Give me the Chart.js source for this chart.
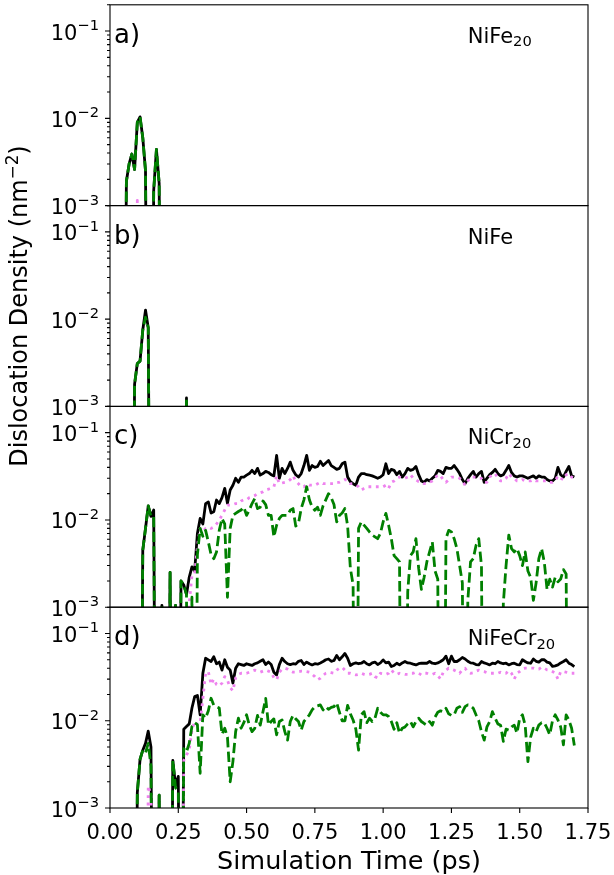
<!DOCTYPE html>
<html>
<head>
<meta charset="utf-8">
<script src="https://cdn.jsdelivr.net/npm/chart.js@4.4.1/dist/chart.umd.min.js"></script>
<style>
  body { margin: 0; background: #fff; }
  #fig { position: relative; width: 614px; height: 875px; }
  #fig canvas { position: absolute; left: 0; top: 0; }
</style>
</head>
<body>
<div id="fig">
  <canvas id="panelA" width="614" height="875"></canvas>
  <canvas id="panelB" width="614" height="875"></canvas>
  <canvas id="panelC" width="614" height="875"></canvas>
  <canvas id="panelD" width="614" height="875"></canvas>
</div>
<script>
// all densities in units of 1e-3 nm^-2, 0 = below the axis (no dislocations)

// time samples (ps) for panels a and b
const timeEarly = [0.05,0.06,0.07,0.08,0.09,0.10,0.11,0.12,0.13,0.14,
  0.15,0.16,0.17,0.18,0.19,0.20,0.21,0.22,0.23,0.24,
  0.25,0.26,0.27,0.28,0.29,0.30];

// time samples (ps) for panels c and d
const timeFull = [0.09,0.10,0.11,0.12,0.13,0.14,0.15,0.16,0.17,0.18,
  0.19,0.20,0.21,0.22,0.23,0.24,0.25,0.26,0.27,0.28,
  0.29,0.30,0.31,0.32,0.33,0.34,0.35,0.36,0.37,0.38,
  0.39,0.40,0.41,0.42,0.43,0.44,0.45,0.46,0.47,0.48,
  0.49,0.50,0.51,0.52,0.53,0.54,0.55,0.56,0.57,0.58,
  0.59,0.60,0.61,0.62,0.63,0.64,0.65,0.66,0.67,0.68,
  0.69,0.70,0.71,0.72,0.73,0.74,0.75,0.76,0.77,0.78,
  0.79,0.80,0.81,0.82,0.83,0.84,0.85,0.86,0.87,0.88,
  0.89,0.90,0.91,0.92,0.93,0.94,0.95,0.96,0.97,0.98,
  0.99,1.00,1.01,1.02,1.03,1.04,1.05,1.06,1.07,1.08,
  1.09,1.10,1.11,1.12,1.13,1.14,1.15,1.16,1.17,1.18,
  1.19,1.20,1.21,1.22,1.23,1.24,1.25,1.26,1.27,1.28,
  1.29,1.30,1.31,1.32,1.33,1.34,1.35,1.36,1.37,1.38,
  1.39,1.40,1.41,1.42,1.43,1.44,1.45,1.46,1.47,1.48,
  1.49,1.50,1.51,1.52,1.53,1.54,1.55,1.56,1.57,1.58,
  1.59,1.60,1.61,1.62,1.63,1.64,1.65,1.66,1.67,1.68,
  1.69,1.70];

// a) NiFe20
const niFe20Total = [0,1.9,3.0,3.9,2.6,9.0,10.4,6.0,2.5,0,
  0,1.5,4.4,1.8,0,0,0,0,0,0,
  0,0,0,0,0,0];
const niFe20Violet = [0,0,0,0,0,1.15,0,0,0,0,
  0,0,0,0,0,0,0,0,0,0,
  0,0,0,0,0,0];
const niFe20Green = [0,1.9,3.0,3.9,2.6,9.0,10.4,6.0,2.5,0,
  0,1.5,4.4,1.8,0,0,0,0,0,0,
  0,0,0,0,0,0];

// b) NiFe
const niFeTotal = [0,0,0,0,1.8,3.1,3.3,7.5,12.7,8.0,
  0,0,0,0,0,0,0,0,0,0,
  0,0,0,1.25,0,0];
const niFeViolet = [0,0,0,0,0,0,0,0,0,0,
  0,0,0,0,0,0,0,0,0,0,
  0,0,0,0,0,0];
const niFeGreen = [0,0,0,0,1.8,3.1,3.3,7.5,10.5,8.0,
  0,0,0,0,0,0,0,0,0,0,
  0,0,0,1.25,0,0];

// c) NiCr20
const niCr20Total = [0,0,0,4.5,8,14.5,11,13,0,0,
  1.05,0,0,2.5,0,1.05,0,2.0,1.8,1.4,
  2.2,2.9,2.6,7,10.4,9,15.4,16.1,12,12.4,
  16.9,15.4,18,23,15.5,22,25,30,27,31,
  31,32.6,34,37,34,39,32.6,34,36,35,
  33,32,55,30,39,34,38.9,46,37,33,
  31,34,42,55,37,42,40,41,47,42,
  45,48,42,40,38,39,44,46,31,27.4,
  26,25,31,34,34,33,32.6,32,31,30,
  31,33,44,34,38,37,33,36,31,34,
  39,37,38,41,33,28,27,29,28,30,
  32,37,36,34,40,39,39,42,38,34,
  29,26,30,33,36,31,34,36,27,30,
  33,35,38,34,32,33,37,42,35,32,
  31,32,32,31,30,31,32,30,32,31,
  31,29,28,28,30,40,33,31,36,41,
  32,31];
const niCr20Violet = [0,0,0,0,0,0,0,0,0,0,
  0,0,0,0,0,0,0,0,0,0,
  1.1,2.3,2.4,5,8.0,7.3,8.0,8.3,8.0,8.3,
  9.0,10,11.3,13,14.8,14.8,15,15.4,15.4,16.5,
  17,17,18,18.4,19,20,20.5,21,22,22.5,
  23,24,32,26,26.5,27,27.4,29,32,28,
  26,24,24,26,25,25,25,26,27,26,
  26,26,26,26,27,27,28,29,28.6,26,
  26,25,24,22,23,24,24,24,24,24,
  24,24,25,23,27,28,30,31,30,30,
  31,33,30,29,27.4,27,26,26,27,28,
  30,33,32,29,27,29,31,31,31,30,
  28,25,28,31,31,31,30,30,27,27,
  31,33,34,30,28,28,30,34,31,30,
  28,28,29,28,28,28,29,28,28,28,
  28,28,27,27,28,32,30,29,33,34,
  31,30];
const niCr20Green = [0,0,0,4.5,8,14.5,11,11,0,0,
  1.05,0,0,2.5,0,1.05,0,2.0,1.8,1.4,
  0,1.3,0,4,8.0,6.5,7.6,5.6,4.0,3.6,
  4.3,7.6,10.4,9.0,1.3,8.0,11.3,11.9,12.5,13,
  14,11.3,13,15.4,17.6,13.5,14,16.5,15,11.3,
  11.3,6.4,8.7,10.4,11.3,11.3,11.3,12.9,13.5,8.5,
  9.1,13.5,17,24,17,14,12.9,14,11.3,14.5,
  17,20,18,15,9.5,11.3,12,13.5,8.5,2.8,
  1.8,0,8,9.5,8.7,8,7.3,6.7,6.4,6.1,
  7,9.5,11.9,8.7,6.1,3.9,3.6,3.3,0,0,
  1.5,3.9,4.3,6.1,2.8,1.6,2.2,3.3,4.3,5.6,
  2.6,2.1,0,0,6.1,7.6,7.3,6.1,4.7,3.0,
  1.9,0,1.2,3.3,3.6,5.1,6.1,3.0,0,0,
  0,0,0,0,0,1.1,3.0,6.7,4.7,4.3,
  4.7,3.9,3.0,4.3,2.6,2.2,1.2,1.9,3.6,4.7,
  3.3,1.6,2.1,1.7,2.2,1.95,2.1,2.7,2.4,0,
  0,0];

// d) NiFeCr20
const niFeCr20Total = [0,1.5,3.6,4.6,5.5,7.6,5.0,0,0,1.4,
  0,0,0,0,3.5,1.8,2.3,0,8.0,8.6,
  9.2,14,18.9,19.5,11.7,35,52,49.8,47.7,54,
  45,47,38,50,41,38,27,40,45,44,
  43,45,44,43,45,46,48,50,44,47,
  44,36,33.5,44,52,47.7,45,44,45,44.5,
  48,49,44,47,45,43.6,45,44.5,46,47.7,
  50,51,48,49,56,50,54,59,52,43,
  45,46,45,45.6,47.7,45,43.6,46,47,44,
  46,49.8,46,47,41.8,43,45.6,43.6,46,47.7,
  46,45.6,44.5,43.6,45,45.6,45.6,45.6,47.7,45.6,
  45,46,47.7,50,55,45,55,47.7,47.7,50,
  53,51,48,46,45.6,44,43.6,47.7,46,45,
  43.6,45.6,45,47.7,46,45,45.6,43.6,45,45.6,
  44,43.6,50,47.7,46,45.6,51,48,47,50,
  50,47,46,42,42.5,43.6,46,47.7,50,45.6,
  44,41.8];
const niFeCr20Violet = [0,0,0,0,0,1.8,1.4,0,0,0,
  0,0,0,0,0,0,0,0,3.5,4.05,
  4.6,7.8,9.8,9.0,9.5,18,35,36.6,26,30,
  26,25,27,32,29,24,22,31,34,35,
  35,35,36,37,38,37,36,37,38,37,
  36,31,29.4,36,39,40,39,37,36,36,
  36.5,37,37,36.6,36,34,32,29.5,30.7,33,
  35,36,35.5,35,38,40,41,38,35,35,
  34,33.5,34,35,34,33.5,34,35,32,31,
  35,34.5,34,35,38.3,35,34,35,34.5,34,
  34,35,35,36,35,33.5,35,35,34,34,
  35,33,30,36,38,40,39,38,36.6,35,
  38.5,40,36,35,35.5,37,38,37,36.5,35.5,
  35,35,35,35,36,35,35,37.5,35,30,
  35,36.6,39,40,40,40,40,39,39,41,
  40,38.3,38,36.6,35,30,36.6,36.6,36,35.5,
  35,35];
const niFeCr20Green = [0,1.5,3.6,4.6,4.3,5.5,3.0,0,0,1.4,
  0,0,0,0,3.5,1.7,1.6,0,4.8,4.4,
  5.5,8.6,9.5,9,2.5,11.7,10.7,13,18.1,15,
  14.5,14,7,8.2,6.5,2.0,3.4,7.5,10.7,8.2,
  9.5,11.7,8.9,7.5,8.2,11.5,8.9,12.7,18,9,
  9.8,10.5,6.9,9.8,10.2,7.5,6.0,9.8,11.5,10.5,
  9.8,7.8,9.8,10.7,11.7,13.3,14.5,14.8,15.2,13.3,
  14.5,13.5,14.2,14.5,16,12.5,10,10,15,12,
  10.2,8.0,4.6,11.7,12.7,9.5,10.7,9.8,10.7,13.9,
  12.5,11.7,11.7,11.2,9.8,8.0,9.5,7.2,8.2,8.5,
  9.2,9.8,8.5,9.8,10.7,9.8,9.3,8.9,9.8,8.9,
  11,12.5,13,12.7,13.9,12,11.5,11.7,13.9,14.5,
  12.5,14.5,15.2,14.8,13.9,11.7,10,7.5,6.0,8.5,
  9.8,12.7,10.7,9.2,8.9,5.8,8.0,7.8,8.5,8.9,
  7.2,10.7,11.7,8.9,3.4,6.5,8.2,7.5,8.9,9.5,
  9.5,8.2,6.9,10,11.7,10.2,8.5,5.3,11.7,10.2,
  8.2,5.2];

// axes
const xTicks = [0, 0.25, 0.5, 0.75, 1.0, 1.25, 1.5, 1.75];
const xTickLabels = ['0.00', '0.25', '0.50', '0.75', '1.00', '1.25', '1.50', '1.75'];
const yMajorTicks = [0.001, 0.01, 0.1];
const yMajorExp = ['\u22123', '\u22122', '\u22121'];
const yMinorFactors = [2, 3, 4, 5, 6, 7, 8, 9];
const panelLetters = ['a)', 'b)', 'c)', 'd)'];
const panelNames = [['NiFe', '20'], ['NiFe', ''], ['NiCr', '20'], ['NiFeCr', '20']];

const FONT = '"DejaVu Sans", sans-serif';
const plotLeft = 110, plotRight = 588;
const panelTops = [4.8, 205.6, 406.4, 607.2];
const panelHeight = 200.8;

function toPoints(times, vals) {
  if (times.length !== vals.length) throw new Error('length mismatch ' + times.length + ' ' + vals.length);
  return times.map((t, i) => ({ x: t, y: vals[i] > 0 ? vals[i] * 1e-3 : 1e-7 }));
}

// text with a smaller raised/lowered part, like mathtext
function drawScript(ctx, x, y, main, extra, size, shift) {
  ctx.font = size + 'px ' + FONT;
  ctx.fillText(main, x, y);
  const w = ctx.measureText(main).width;
  if (extra) {
    ctx.font = (size * 0.7) + 'px ' + FONT;
    ctx.fillText(extra, x + w, y + shift);
  }
}
function scriptWidth(ctx, main, extra, size) {
  ctx.font = size + 'px ' + FONT;
  let w = ctx.measureText(main).width;
  ctx.font = (size * 0.7) + 'px ' + FONT;
  return w + ctx.measureText(extra).width;
}

const decor = {
  id: 'decor',
  afterDatasetsDraw(chart, args, opts) {
    const ctx = chart.ctx, a = chart.chartArea;
    const ys = chart.scales.y, xs = chart.scales.x;
    ctx.save();
    ctx.strokeStyle = '#000';
    ctx.fillStyle = '#000';
    ctx.lineWidth = 1.1;
    ctx.strokeRect(a.left, a.top, a.right - a.left, a.bottom - a.top);

    // y ticks, major and minor
    ctx.beginPath();
    yMajorTicks.forEach(d => {
      const p = ys.getPixelForValue(d);
      ctx.moveTo(a.left - 5, p); ctx.lineTo(a.left, p);
      yMinorFactors.forEach(f => {
        const v = d * f;
        if (v > 0.2001) return;
        const q = ys.getPixelForValue(v);
        ctx.moveTo(a.left - 3, q); ctx.lineTo(a.left, q);
      });
    });
    if (opts.bottom) {
      xTicks.forEach(v => {
        const p = xs.getPixelForValue(v);
        ctx.moveTo(p, a.bottom); ctx.lineTo(p, a.bottom + 5);
      });
    }
    ctx.stroke();

    // y tick labels
    ctx.textAlign = 'left';
    ctx.textBaseline = 'alphabetic';
    yMajorTicks.forEach((d, i) => {
      const p = ys.getPixelForValue(d);
      const w = scriptWidth(ctx, '10', yMajorExp[i], 21);
      drawScript(ctx, 99 - w, p + 8.5, '10', yMajorExp[i], 21, -9.5);
    });

    // x tick labels and x title on the bottom panel
    if (opts.bottom) {
      ctx.textAlign = 'center';
      ctx.font = '21px ' + FONT;
      xTicks.forEach((v, i) => {
        ctx.fillText(xTickLabels[i], xs.getPixelForValue(v), a.bottom + 31);
      });
      ctx.font = '25.5px ' + FONT;
      ctx.fillText('Simulation Time (ps)', (a.left + a.right) / 2, 869);
      ctx.textAlign = 'left';
    }

    // panel letter and alloy name
    ctx.font = '26px ' + FONT;
    ctx.fillText(panelLetters[opts.idx], a.left + 4, a.top + 38);
    const nm = panelNames[opts.idx];
    drawScript(ctx, a.left + 357.7, a.top + 38, nm[0], nm[1], 21, 3.5);

    // shared y label, centred on panel b
    if (opts.idx === 1) {
      const main = 'Dislocation Density (nm', sup = '\u22122', tail = ')';
      ctx.save();
      ctx.translate(27, (a.top + a.bottom) / 2);
      ctx.rotate(-Math.PI / 2);
      const w1 = scriptWidth(ctx, main, sup, 24);
      ctx.font = '24px ' + FONT;
      const w2 = ctx.measureText(tail).width;
      const x0 = -(w1 + w2) / 2;
      drawScript(ctx, x0, 0, main, sup, 24, -9.5);
      ctx.font = '24px ' + FONT;
      ctx.fillText(tail, x0 + w1, 0);
      ctx.restore();
    }
    ctx.restore();
  }
};

function makePanel(id, idx, times, total, violet, green) {
  const isBottom = idx === 3;
  const top = panelTops[idx];
  const bottom = top + panelHeight;
  new Chart(document.getElementById(id), {
    type: 'line',
    data: {
      datasets: [
        { data: toPoints(times, green), borderColor: 'green', borderDash: [10.3, 4.4], order: 1 },
        { data: toPoints(times, violet), borderColor: 'violet', borderDash: [2.8, 4.6], order: 2 },
        { data: toPoints(times, total), borderColor: 'black', order: 3 }
      ]
    },
    options: {
      responsive: false,
      animation: false,
      devicePixelRatio: 1,
      events: [],
      layout: { padding: { left: 0, right: 614 - plotRight, top: top, bottom: 875 - bottom } },
      elements: {
        line: { borderWidth: 2.8, tension: 0, borderJoinStyle: 'round', borderCapStyle: 'butt', fill: false },
        point: { radius: 0 }
      },
      plugins: {
        legend: { display: false },
        tooltip: { enabled: false },
        decor: { idx: idx, bottom: isBottom }
      },
      scales: {
        x: { type: 'linear', min: 0, max: 1.75, display: false },
        y: {
          type: 'logarithmic', min: 0.001, max: 0.2,
          grid: { display: false, drawTicks: false },
          border: { display: false },
          ticks: { display: false },
          afterFit: s => { s.width = plotLeft; }
        }
      }
    },
    plugins: [decor]
  });
}

makePanel('panelA', 0, timeEarly, niFe20Total, niFe20Violet, niFe20Green);
makePanel('panelB', 1, timeEarly, niFeTotal, niFeViolet, niFeGreen);
makePanel('panelC', 2, timeFull, niCr20Total, niCr20Violet, niCr20Green);
makePanel('panelD', 3, timeFull, niFeCr20Total, niFeCr20Violet, niFeCr20Green);
</script>
</body>
</html>
